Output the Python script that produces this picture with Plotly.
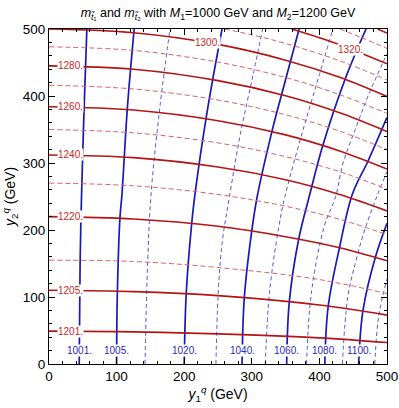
import plotly.graph_objects as go

# contour lines, (y1, y2) points in GeV
# m_t1 contours (blue)
t1_1001 = [(44.7, 0), (46, 150), (48, 246), (52, 383), (56, 500)]
t1_1005 = [(100, 0), (101, 100), (105, 219), (108, 254), (116, 383), (126, 500)]
t1_1010 = [(142, 0), (146, 154), (151, 254), (164, 383), (179, 500)]
t1_1020 = [(200, 0), (203, 105), (211, 209), (216, 254), (235, 383), (256, 500)]
t1_1030 = [(247, 0), (250, 100), (256, 180), (267, 250), (283, 343), (302, 432), (316, 500)]
t1_1040 = [(285.6, 0), (289, 100), (300, 199), (308, 250), (330, 348), (344, 402), (370, 500)]
t1_1050 = [(320, 0), (326, 105), (340, 205), (349, 250), (374, 343), (400, 432), (420, 500)]
t1_1060 = [(351.6, 0), (355.5, 93), (369.5, 187), (386, 254), (405, 326), (438, 425), (469, 500)]
t1_1070 = [(381, 0), (388, 105), (407, 205), (424, 250), (435, 300), (453, 350), (472, 400), (500, 463)]
t1_1080 = [(408, 0), (413, 86), (430, 175), (449, 254), (472, 303), (500, 368)]
t1_1090 = [(434, 0), (442, 100), (453, 150), (467, 200), (485, 250), (500, 287)]
t1_1100 = [(458, 0), (464.5, 80), (483, 160), (500, 210)]
t1_1110 = [(482, 0), (487.5, 70), (500, 127)]

# m_t2 contours (red)
t2_1201 = [(0, 49), (125, 48), (250, 45), (400, 39), (500, 32)]
t2_1205 = [(0, 110), (125, 108), (250, 102), (400, 88), (500, 73)]
t2_1210 = [(0, 155), (125, 153), (250, 144), (400, 126), (500, 105)]
t2_1220 = [(0, 220), (125, 216.5), (250, 205.5), (350, 190), (430, 173.5), (500, 154)]
t2_1230 = [(0, 270), (125, 266), (250, 253), (350, 235.5), (430, 216), (500, 193)]
t2_1240 = [(0, 312), (125, 308), (250, 294), (350, 275), (430, 253), (500, 228.5)]
t2_1250 = [(0, 350), (125, 345), (250, 330), (350, 309.5), (430, 287), (500, 261)]
t2_1260 = [(0, 384), (125, 379), (250, 363), (350, 342), (430, 318), (500, 291)]
t2_1270 = [(0, 416), (125, 410.5), (250, 394), (350, 372), (430, 347.5), (500, 320)]
t2_1280 = [(0, 445), (125, 440), (250, 423), (350, 400.5), (430, 375), (500, 347)]
t2_1290 = [(0, 473.4), (125, 468), (250, 450.6), (350, 427.5), (430, 402), (500, 374)]
t2_1300 = [(0, 500), (125, 494.4), (250, 477), (350, 453.5), (430, 428), (500, 399.3)]
t2_1310 = [(260, 500), (300, 491.3), (350, 478.4), (430, 452.5), (500, 424)]
t2_1320 = [(359, 500), (400, 487), (430, 476.5), (500, 448)]
t2_1330 = [(430, 500), (465, 486), (500, 471)]
t2_1340 = [(486, 500), (500, 494)]

blue_solid = [t1_1001, t1_1005, t1_1020, t1_1040, t1_1060, t1_1080, t1_1100]
blue_dashed = [t1_1010, t1_1030, t1_1050, t1_1070, t1_1090, t1_1110]
red_solid = [t2_1201, t2_1205, t2_1220, t2_1240, t2_1260, t2_1280, t2_1300, t2_1320, t2_1340]
red_dashed = [t2_1210, t2_1230, t2_1250, t2_1270, t2_1290, t2_1310, t2_1330]

# contour labels: text, y1, y2
blue_labels = [("1001.", 45, 20), ("1005.", 100, 20), ("1020.", 201, 20), ("1040.", 286, 20),
               ("1060.", 352, 20), ("1080.", 408, 20), ("1100.", 458, 20)]
red_labels = [("1201.", 32, 49), ("1205.", 32, 109.5), ("1220.", 32, 219.8), ("1240.", 32, 312),
              ("1260.", 32, 383.7), ("1280.", 32, 445), ("1300.", 234, 479.3), ("1320.", 446, 470)]

BLUE = "rgb(25,25,185)"
BLUE_D = "rgb(85,85,225)"
RED = "rgb(180,20,20)"
RED_D = "rgb(222,95,95)"

fig = go.Figure()


def add_lines(lines, color, width, dash):
    for pts in lines:
        fig.add_trace(go.Scatter(
            x=[p[0] for p in pts], y=[p[1] for p in pts],
            mode="lines", line=dict(color=color, width=width, dash=dash, shape="spline", smoothing=1),
            hoverinfo="skip", showlegend=False,
        ))


add_lines(blue_dashed, BLUE_D, 1, "4px,3px")
add_lines(blue_solid, BLUE, 1.7, "solid")
add_lines(red_dashed, RED_D, 1, "5px,3px")
add_lines(red_solid, RED, 1.6, "solid")

for txt, x, y in blue_labels:
    fig.add_annotation(x=x, y=y, text=txt, showarrow=False, bgcolor="white",
                       font=dict(size=10, color="rgb(40,40,200)"), borderpad=0)
for txt, x, y in red_labels:
    fig.add_annotation(x=x, y=y, text=txt, showarrow=False, bgcolor="white",
                       font=dict(size=10, color="rgb(200,40,40)"), borderpad=0)

axis_style = dict(
    range=[0, 500], dtick=100, ticks="inside", ticklen=6, tickcolor="black",
    showline=True, linecolor="black", linewidth=1, mirror="ticks",
    showgrid=False, zeroline=False, automargin=False,
    minor=dict(dtick=20, ticks="inside", ticklen=3, tickcolor="black"),
    tickfont=dict(size=13.5, color="black"),
)
fig.update_xaxes(**axis_style,
                 title=dict(text="<i>y</i><sub>1</sub><sup><i>q</i></sup> (GeV)",
                            font=dict(size=14, color="black"), standoff=5))
fig.update_yaxes(**axis_style,
                 title=dict(text="<i>y</i><sub>2</sub><sup><i>q</i></sup> (GeV)",
                            font=dict(size=14, color="black"), standoff=3))

fig.update_layout(
    width=399, height=408,
    margin=dict(l=49, r=11.5, t=28.5, b=43.5, autoexpand=False),
    plot_bgcolor="white", paper_bgcolor="white",
    font=dict(family="Liberation Sans, Arial, sans-serif"),
    title=dict(text="<i>m</i><sub><i>t̃</i>₁</sub> and <i>m</i><sub><i>t̃</i>₂</sub> with "
                    "<i>M</i><sub>1</sub>=1000 GeV and <i>M</i><sub>2</sub>=1200 GeV",
               x=0.5, xref="paper", xanchor="center", y=0.969, yanchor="middle",
               font=dict(size=12.5, color="black")),
    showlegend=False,
)

# drop the browser's default body margin so the figure sits at the page corner
fig.write_html("out.html", config={"displayModeBar": False},
               post_script="document.body.style.margin='0';document.body.style.overflow='hidden';")
